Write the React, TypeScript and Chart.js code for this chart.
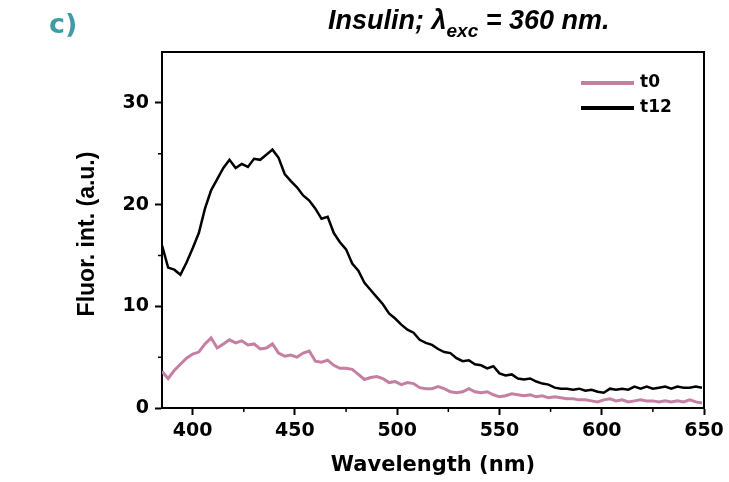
import React, { useEffect, useRef } from 'react';
import { Chart, registerables } from 'chart.js';

Chart.register(...registerables);

const wavelengths = [385,388,391,394,397,400,403,406,409,412,415,418,421,424,427,430,433,436,439,442,445,448,451,454,457,460,463,466,469,472,475,478,481,484,487,490,493,496,499,502,505,508,511,514,517,520,523,526,529,532,535,538,541,544,547,550,553,556,559,562,565,568,571,574,577,580,583,586,589,592,595,598,601,604,607,610,613,616,619,622,625,628,631,634,637,640,643,646,649];

const t12 = [16.0,13.8,13.6,13.1,14.3,15.7,17.2,19.6,21.4,22.5,23.6,24.4,23.6,24.0,23.7,24.5,24.4,24.9,25.4,24.6,23.0,22.3,21.7,20.9,20.4,19.6,18.6,18.8,17.2,16.3,15.6,14.2,13.5,12.3,11.6,10.9,10.2,9.3,8.8,8.2,7.7,7.4,6.7,6.4,6.2,5.8,5.5,5.4,4.9,4.6,4.7,4.3,4.2,3.9,4.1,3.4,3.2,3.3,2.9,2.8,2.9,2.6,2.4,2.3,2.0,1.9,1.9,1.8,1.9,1.7,1.8,1.6,1.5,1.9,1.8,1.9,1.8,2.1,1.9,2.1,1.9,2.0,2.1,1.9,2.1,2.0,2.0,2.1,2.0];

const t0 = [3.6,2.9,3.7,4.3,4.9,5.3,5.5,6.3,6.9,5.9,6.3,6.7,6.4,6.6,6.2,6.3,5.8,5.9,6.3,5.4,5.1,5.2,5.0,5.4,5.6,4.6,4.5,4.7,4.2,3.9,3.9,3.8,3.3,2.8,3.0,3.1,2.9,2.5,2.6,2.3,2.5,2.4,2.0,1.9,1.9,2.1,1.9,1.6,1.5,1.6,1.9,1.6,1.5,1.6,1.3,1.1,1.2,1.4,1.3,1.2,1.3,1.1,1.2,1.0,1.1,1.0,0.9,0.9,0.8,0.8,0.7,0.6,0.8,0.9,0.7,0.8,0.6,0.7,0.8,0.7,0.7,0.6,0.7,0.6,0.7,0.6,0.8,0.6,0.5];

const xTicks = [400, 450, 500, 550, 600, 650];
const yTicks = [0, 10, 20, 30];
const xMinor = [425, 475, 525, 575, 625];
const yMinor = [5, 15, 25];

const seriesNames = ['t0', 't12'];
const seriesColors = ['#c47fa3', '#000000'];

const overlay = {
  id: 'overlay',
  afterDraw(chart: any) {
    const { ctx, chartArea: a, scales } = chart;
    const xs = scales.x;
    const ys = scales.y;
    ctx.save();
    // frame top and right
    ctx.strokeStyle = '#000';
    ctx.lineWidth = 2;
    ctx.beginPath();
    ctx.moveTo(a.left - 1, a.top);
    ctx.lineTo(a.right, a.top);
    ctx.lineTo(a.right, a.bottom + 1);
    ctx.stroke();
    // minor ticks
    ctx.lineWidth = 1.5;
    ctx.beginPath();
    xMinor.forEach((v) => {
      const px = xs.getPixelForValue(v);
      ctx.moveTo(px, a.bottom);
      ctx.lineTo(px, a.bottom + 4);
    });
    yMinor.forEach((v) => {
      const py = ys.getPixelForValue(v);
      ctx.moveTo(a.left, py);
      ctx.lineTo(a.left - 4, py);
    });
    ctx.stroke();

    // title
    ctx.fillStyle = '#000';
    ctx.textBaseline = 'alphabetic';
    ctx.textAlign = 'left';
    let x = 328;
    const by = 29;
    ctx.font = 'italic bold 27px "Liberation Sans"';
    const p1 = 'Insulin; \u03bb';
    ctx.fillText(p1, x, by);
    x += ctx.measureText(p1).width;
    ctx.font = 'italic bold 19px "Liberation Sans"';
    ctx.fillText('exc', x, by + 8);
    x += ctx.measureText('exc').width;
    ctx.font = 'italic bold 27px "Liberation Sans"';
    ctx.fillText(' = 360 nm.', x, by);

    // panel label
    ctx.fillStyle = '#3f9ca6';
    ctx.font = 'bold 27px "DejaVu Sans"';
    ctx.fillText('c)', 49, 33);

    // legend
    seriesNames.forEach((name, i) => {
      const ly = 83 + i * 25;
      ctx.strokeStyle = seriesColors[i];
      ctx.lineWidth = 4;
      ctx.beginPath();
      ctx.moveTo(581, ly);
      ctx.lineTo(634, ly);
      ctx.stroke();
      ctx.fillStyle = '#000';
      ctx.font = 'bold 17px "DejaVu Sans"';
      ctx.textBaseline = 'middle';
      ctx.fillText(name, 640, ly);
    });

    // axis titles
    ctx.fillStyle = '#000';
    ctx.textAlign = 'center';
    ctx.textBaseline = 'middle';
    ctx.font = 'bold 21px "DejaVu Sans"';
    ctx.fillText('Wavelength (nm)', (a.left + a.right) / 2, 466);
    ctx.save();
    ctx.translate(94, 234);
    ctx.rotate(-Math.PI / 2);
    ctx.textBaseline = 'alphabetic';
    ctx.font = 'bold 23px "Liberation Sans"';
    ctx.fillText('Fluor. int. (a.u.)', 0, 0);
    ctx.restore();
    ctx.restore();
  },
};

export default function App() {
  const ref = useRef<HTMLCanvasElement>(null);
  useEffect(() => {
    if (!ref.current) return;
    const tickFont = { family: '"DejaVu Sans"', weight: 'bold' as const, size: 19 };
    const chart = new Chart(ref.current, {
      type: 'line',
      data: {
        datasets: [
          {
            label: seriesNames[0],
            data: wavelengths.map((w, i) => ({ x: w, y: t0[i] })),
            borderColor: seriesColors[0],
            borderWidth: 3,
            pointRadius: 0,
            tension: 0,
          },
          {
            label: seriesNames[1],
            data: wavelengths.map((w, i) => ({ x: w, y: t12[i] })),
            borderColor: seriesColors[1],
            borderWidth: 2.5,
            pointRadius: 0,
            tension: 0,
          },
        ],
      },
      options: {
        responsive: false,
        animation: false,
        layout: { padding: { top: 52, right: 25, left: 0, bottom: 0 } },
        plugins: { legend: { display: false }, tooltip: { enabled: false } },
        scales: {
          x: {
            type: 'linear',
            min: 385,
            max: 650,
            afterBuildTicks: (s: any) => {
              s.ticks = xTicks.map((v) => ({ value: v }));
            },
            afterFit: (s: any) => {
              s.height = 74;
            },
            grid: { drawOnChartArea: false, drawTicks: true, tickLength: 7, tickWidth: 2, tickColor: '#000' },
            border: { display: true, color: '#000', width: 2 },
            ticks: { color: '#000', font: tickFont, padding: 5, maxRotation: 0, autoSkip: false },
          },
          y: {
            type: 'linear',
            min: 0,
            max: 35,
            afterBuildTicks: (s: any) => {
              s.ticks = yTicks.map((v) => ({ value: v }));
            },
            afterFit: (s: any) => {
              s.width = 162;
            },
            grid: { drawOnChartArea: false, drawTicks: true, tickLength: 7, tickWidth: 2, tickColor: '#000' },
            border: { display: true, color: '#000', width: 2 },
            ticks: { color: '#000', font: tickFont, padding: 6, autoSkip: false },
          },
        },
      },
      plugins: [overlay],
    });
    return () => chart.destroy();
  }, []);
  return (
    <div style={{ position: 'absolute', left: 0, top: 0, width: 729, height: 482, background: '#fff' }}>
      <canvas ref={ref} width={729} height={482} style={{ width: 729, height: 482 }} />
    </div>
  );
}
